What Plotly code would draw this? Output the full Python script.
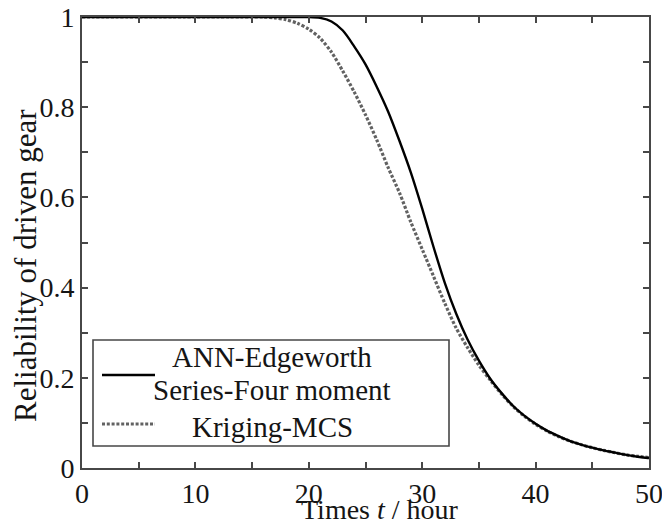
import plotly.graph_objects as go

# Operating time (hours)
time_h = list(range(0, 51))

# Reliability of the driven gear, ANN-Edgeworth series (four moments)
rel_ann_edgeworth = [
    1.0, 1.0, 1.0, 1.0, 1.0, 1.0, 1.0, 1.0, 1.0, 1.0,
    1.0, 1.0, 1.0, 1.0, 1.0, 1.0, 1.0, 1.0, 1.0, 1.0,
    1.0, 0.998, 0.99, 0.97, 0.935, 0.895, 0.845, 0.79, 0.725, 0.655,
    0.575, 0.49, 0.41, 0.342, 0.285, 0.238, 0.198, 0.166, 0.138, 0.116,
    0.098, 0.083, 0.071, 0.06, 0.052, 0.045, 0.039, 0.034, 0.029, 0.025,
    0.022,
]

# Reliability of the driven gear, Kriging surrogate with Monte Carlo simulation
rel_kriging_mcs = [
    1.0, 1.0, 1.0, 1.0, 1.0, 1.0, 1.0, 1.0, 1.0, 1.0,
    1.0, 1.0, 1.0, 1.0, 1.0, 1.0, 1.0, 0.998, 0.994, 0.986,
    0.973, 0.953, 0.922, 0.88, 0.834, 0.783, 0.727, 0.666, 0.61, 0.545,
    0.485, 0.425, 0.365, 0.31, 0.267, 0.228, 0.195, 0.164, 0.137, 0.115,
    0.097, 0.082, 0.07, 0.06, 0.052, 0.045, 0.039, 0.034, 0.029, 0.026,
    0.023,
]

x_tick_vals = list(range(0, 51, 5))
x_tick_text = [str(v) if v % 10 == 0 else "" for v in x_tick_vals]
y_tick_vals = [i / 10 for i in range(0, 11)]
y_tick_text = ["0", "", "0.2", "", "0.4", "", "0.6", "", "0.8", "", "1"]

legend_labels = ["ANN-Edgeworth", "Series-Four moment", "Kriging-MCS"]

FONT = "'Liberation Serif', 'Times New Roman', Times, Tinos, 'DejaVu Serif', serif"
TEXT = "#151515"
AXIS = "#474747"
DOT_GRAY = "#626262"

fig = go.Figure()
fig.add_trace(go.Scatter(
    x=time_h, y=rel_kriging_mcs, mode="lines", name="Kriging-MCS",
    line=dict(color=DOT_GRAY, width=3.2, dash="3px,1.8px",
              shape="spline", smoothing=0.8),
))
fig.add_trace(go.Scatter(
    x=time_h, y=rel_ann_edgeworth, mode="lines", name="ANN-Edgeworth",
    line=dict(color="#000000", width=2.4, shape="spline", smoothing=0.8),
))

axis_common = dict(
    showline=True, linecolor=AXIS, linewidth=1.6, mirror="ticks",
    ticks="inside", ticklen=6, tickwidth=1.5, tickcolor=AXIS,
    showgrid=False, zeroline=False, ticklabeloverflow="allow",
    ticklabelstandoff=0,
    tickfont=dict(family=FONT, size=28, color=TEXT),
)

fig.update_xaxes(range=[0, 50], tickmode="array", tickvals=x_tick_vals,
                 ticktext=x_tick_text, **axis_common)
fig.update_yaxes(range=[0, 1], tickmode="array", tickvals=y_tick_vals,
                 ticktext=y_tick_text, **axis_common)

W, H = 662, 526
L, R, T, B = 82, 13, 17, 58
pw, ph = W - L - R, H - T - B


def px(xp):
    return (xp - L) / pw


def py(yp):
    return (H - B - yp) / ph


# Legend frame and samples
fig.add_shape(type="rect", xref="paper", yref="paper",
              x0=px(93), x1=px(449), y0=py(446), y1=py(340),
              line=dict(color=AXIS, width=1.6), fillcolor="white", layer="above")
fig.add_shape(type="line", xref="paper", yref="paper",
              x0=px(102), x1=px(155), y0=py(375), y1=py(375),
              line=dict(color="#000000", width=2.4), layer="above")
fig.add_shape(type="line", xref="paper", yref="paper",
              x0=px(102), x1=px(155), y0=py(424), y1=py(424),
              line=dict(color=DOT_GRAY, width=3.2, dash="3px,1.8px"), layer="above")

for label, ypix in zip(legend_labels, [357, 390, 427]):
    fig.add_annotation(text=label, xref="paper", yref="paper",
                       x=px(272), y=py(ypix), xanchor="center", yanchor="middle",
                       showarrow=False, font=dict(family=FONT, size=29, color=TEXT))

# Axis titles
fig.add_annotation(text="Times <i>t</i> / hour", xref="paper", yref="paper",
                   x=px(380), y=py(510), xanchor="center", yanchor="middle",
                   showarrow=False, font=dict(family=FONT, size=28, color=TEXT))
fig.add_annotation(text="Reliability of driven gear", xref="paper", yref="paper",
                   x=px(25), y=py(266), xanchor="center", yanchor="middle",
                   textangle=-90, showarrow=False,
                   font=dict(family=FONT, size=31, color=TEXT))

fig.update_layout(
    width=W, height=H,
    margin=dict(l=L, r=R, t=T, b=B, autoexpand=False),
    paper_bgcolor="white", plot_bgcolor="white",
    showlegend=False,
)

fig.write_html("out.html")
